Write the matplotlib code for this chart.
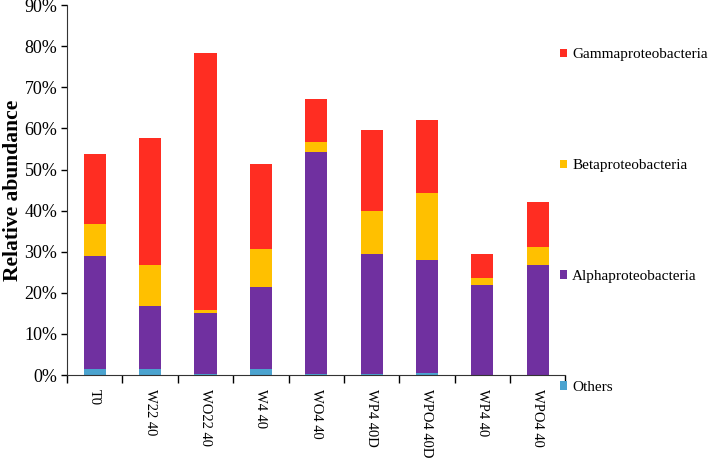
import matplotlib
matplotlib.use("Agg")
import matplotlib.pyplot as plt
import numpy as np
from matplotlib.patches import Patch

plt.rcParams['font.family'] = ['Liberation Serif', 'DejaVu Serif']

categories = ["T0", "W22 40", "WO22 40", "W4 40", "WO4 40", "WP4 40D", "WPO4 40D", "WP4 40", "WPO4 40"]
others = [1.6, 1.5, 0.2, 1.5, 0.2, 0.2, 0.4, 0.1, 0.1]
alpha = [27.4, 15.2, 14.8, 19.9, 54.1, 29.3, 27.6, 21.7, 26.7]
beta = [7.7, 10.1, 0.8, 9.3, 2.4, 10.5, 16.3, 1.8, 4.3]
gamma = [17.1, 30.8, 62.5, 20.7, 10.5, 19.7, 17.8, 5.8, 11.0]

series = [("Others", others, "#4BA3CF"),
          ("Alphaproteobacteria", alpha, "#7030A0"),
          ("Betaproteobacteria", beta, "#FFC000"),
          ("Gammaproteobacteria", gamma, "#FF2D22")]

fig = plt.figure(figsize=(7.09, 4.58), dpi=100)
ax = fig.add_axes([0.0945, 0.181, 0.703, 0.808])

x = np.arange(len(categories))
bottom = np.zeros(len(categories))
handles = {}
for name, vals, col in series:
    v = np.array(vals)
    ax.bar(x, v, width=0.4, bottom=bottom, color=col, edgecolor='none')
    bottom += v
    handles[name] = Patch(facecolor=col, edgecolor='none')

ax.set_xlim(-0.5, len(categories) - 0.5)
ax.set_ylim(0, 90)
ax.set_yticks(np.arange(0, 91, 10))
ax.set_yticklabels([f"{t}%" for t in range(0, 91, 10)], fontsize=13)
ax.set_xticks(x)
ax.set_xticklabels(categories, rotation=270, fontsize=10.5)
ax.tick_params(axis='x', length=0, pad=10)
ax.set_xticks(np.arange(-0.5, len(categories), 1), minor=True)
ax.tick_params(axis='x', which='minor', length=6, direction='out', width=1)
ax.tick_params(axis='y', length=4, direction='out', width=1, pad=3)
ax.spines['top'].set_visible(False)
ax.spines['right'].set_visible(False)
for s in ['left', 'bottom']:
    ax.spines[s].set_color('#333333')
ax.set_ylabel("Relative abundance", fontsize=15.5, fontweight='bold', labelpad=1)

order = ["Gammaproteobacteria", "Betaproteobacteria", "Alphaproteobacteria", "Others"]
leg = fig.legend([handles[n] for n in order], order, loc='upper left',
                 bbox_to_anchor=(0.772, 0.921), frameon=False, fontsize=11,
                 handlelength=0.47, handleheight=0.47, handletextpad=0.35,
                 labelspacing=6.4, borderpad=0.3)

fig.savefig("out.png", dpi=100)
